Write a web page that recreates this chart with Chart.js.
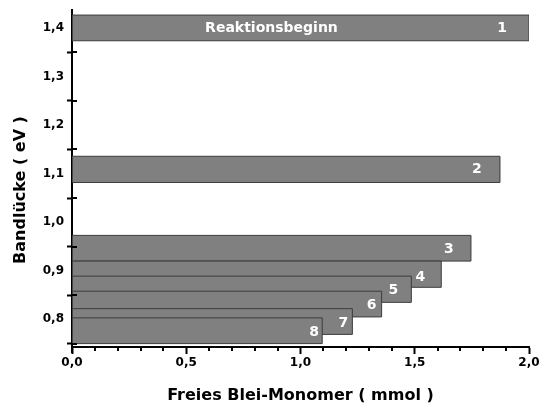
<!DOCTYPE html>
<html>
<head>
<meta charset="utf-8">
<script src="https://cdn.jsdelivr.net/npm/chart.js@4/dist/chart.umd.min.js"></script>
<style>
  html, body { margin: 0; padding: 0; background: #fff; }
  #wrap { width: 542px; height: 407px; }
</style>
</head>
<body>
<div id="wrap"><canvas id="gapChart"></canvas></div>
<script>
// Band gap ranges of the samples vs. remaining free lead monomer
const sampleNames = ['1', '2', '3', '4', '5', '6', '7', '8'];
const freeMonomer = [2.0, 1.873, 1.746, 1.616, 1.485, 1.355, 1.227, 1.095];   // mmol
const gapUpper = [1.427, 1.136, 0.973, 0.920, 0.889, 0.858, 0.822, 0.803];     // eV
const gapLower = [1.374, 1.082, 0.920, 0.866, 0.835, 0.805, 0.769, 0.750];     // eV
const startNote = 'Reaktionsbeginn';
const startNoteAt = 0.873;

const xTicks = [0, 0.1, 0.2, 0.3, 0.4, 0.5, 0.6, 0.7, 0.8, 0.9, 1.0,
                1.1, 1.2, 1.3, 1.4, 1.5, 1.6, 1.7, 1.8, 1.9, 2.0];
const yTicks = [0.75, 0.8, 0.85, 0.9, 0.95, 1.0, 1.05, 1.1, 1.15, 1.2, 1.25, 1.3, 1.35, 1.4];

// label nudges in px (dx back from bar end, dy down from bar middle)
const tagNudge = [[27, 0], [23, 0], [22, 1], [21, 3], [18, 1], [10, 1], [9, 2], [8, 2]];

const FONT = '"DejaVu Sans", sans-serif';
const comma = v => v.toFixed(1).replace('.', ',');
const onStep = (v, step) => Math.abs(v / step - Math.round(v / step)) < 1e-6;

const datasets = sampleNames.map((name, i) => ({
  label: name,
  data: [
    { x: 0, y: gapLower[i] },
    { x: freeMonomer[i], y: gapLower[i] },
    { x: freeMonomer[i], y: gapUpper[i] },
    { x: 0, y: gapUpper[i] },
    { x: 0, y: gapLower[i] }
  ],
  showLine: true,
  fill: 'shape',
  backgroundColor: '#808080',
  borderColor: '#3c3c3c',
  borderWidth: 1,
  pointRadius: 0,
  tension: 0,
  order: sampleNames.length - i
}));

const axisMarks = {
  id: 'axisMarks',
  afterDatasetsDraw(chart) {
    const { ctx, chartArea: a, scales: { x, y } } = chart;
    ctx.save();
    ctx.fillStyle = '#fff';
    ctx.textAlign = 'center';
    ctx.textBaseline = 'middle';
    ctx.font = 'bold 14px ' + FONT;
    sampleNames.forEach((name, i) => {
      const px = x.getPixelForValue(freeMonomer[i]) - tagNudge[i][0];
      const py = (y.getPixelForValue(gapUpper[i]) + y.getPixelForValue(gapLower[i])) / 2 + tagNudge[i][1];
      ctx.fillText(name, px, py);
    });
    ctx.fillText(startNote, x.getPixelForValue(startNoteAt),
      (y.getPixelForValue(gapUpper[0]) + y.getPixelForValue(gapLower[0])) / 2);
    ctx.restore();
  },
  afterDraw(chart) {
    const { ctx, chartArea: a, scales: { x, y } } = chart;
    ctx.save();
    ctx.strokeStyle = '#000';
    ctx.lineWidth = 2;
    ctx.beginPath();
    // short minor ticks below the x axis
    xTicks.filter(v => !onStep(v, 0.5)).forEach(v => {
      const px = Math.round(x.getPixelForValue(v));
      ctx.moveTo(px, a.bottom);
      ctx.lineTo(px, a.bottom + 4);
    });
    // y ticks cross the axis
    yTicks.filter(v => !onStep(v, 0.1)).forEach(v => {
      const py = Math.round(y.getPixelForValue(v));
      ctx.moveTo(a.left, py);
      ctx.lineTo(a.left + 5, py);
    });
    // y axis runs a little past the x axis
    ctx.moveTo(a.left, a.bottom);
    ctx.lineTo(a.left, a.bottom + 6);
    ctx.stroke();

    ctx.translate(21, 190);
    ctx.rotate(-Math.PI / 2);
    ctx.fillStyle = '#000';
    ctx.font = 'bold 16px ' + FONT;
    ctx.textAlign = 'center';
    ctx.textBaseline = 'middle';
    ctx.fillText('Bandlücke ( eV )', 0, 0);
    ctx.restore();
  }
};

new Chart(document.getElementById('gapChart'), {
  type: 'scatter',
  data: { datasets },
  options: {
    responsive: true,
    maintainAspectRatio: false,
    animation: false,
    layout: { padding: { top: 7, right: 13, bottom: 0, left: 0 } },
    plugins: {
      legend: { display: false },
      tooltip: { enabled: false }
    },
    scales: {
      x: {
        type: 'linear',
        min: 0,
        max: 2,
        afterBuildTicks: s => { s.ticks = xTicks.map(v => ({ value: v })); },
        afterFit: s => { s.height = 60; },
        border: { color: '#000', width: 2 },
        grid: {
          drawOnChartArea: false,
          tickLength: 7,
          tickWidth: 2,
          tickColor: c => onStep(c.tick.value, 0.5) ? '#000' : 'rgba(0,0,0,0)'
        },
        ticks: {
          autoSkip: false,
          maxRotation: 0,
          padding: 2,
          color: '#000',
          font: { family: FONT, weight: 'bold', size: 12 },
          callback: v => onStep(v, 0.5) ? comma(v) : ''
        },
        title: {
          display: true,
          text: 'Freies Blei-Monomer ( mmol )',
          color: '#000',
          font: { family: FONT, weight: 'bold', size: 16 },
          padding: { top: 4, bottom: 2 }
        }
      },
      y: {
        type: 'linear',
        min: 0.743,
        max: 1.437,
        afterBuildTicks: s => { s.ticks = yTicks.map(v => ({ value: v })); },
        afterFit: s => { s.width = 72; },
        border: { color: '#000', width: 2 },
        grid: {
          drawOnChartArea: false,
          tickLength: 5,
          tickWidth: 2,
          tickColor: c => onStep(c.tick.value, 0.1) ? 'rgba(0,0,0,0)' : '#000'
        },
        ticks: {
          autoSkip: false,
          padding: 3,
          color: '#000',
          font: { family: FONT, weight: 'bold', size: 12 },
          callback: v => onStep(v, 0.1) ? comma(v) : ''
        }
      }
    }
  },
  plugins: [axisMarks]
});
</script>
</body>
</html>
